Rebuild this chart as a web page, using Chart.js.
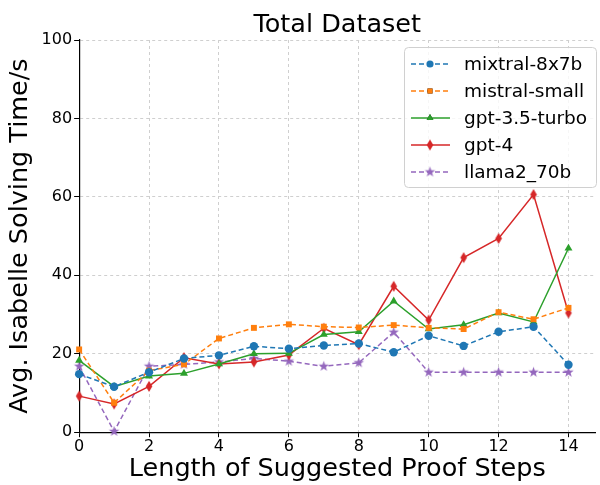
<!DOCTYPE html>
<html>
<head>
<meta charset="utf-8">
<script src="https://cdn.jsdelivr.net/npm/chart.js@4.4.1/dist/chart.umd.min.js"></script>
<style>
  html, body { margin: 0; padding: 0; background: #fff; }
  #wrap { width: 600px; height: 485px; }
</style>
</head>
<body>
<div id="wrap"><canvas id="chart" width="600" height="485"></canvas></div>
<script>
// data
const steps = [0, 1, 2, 3, 4, 5, 6, 7, 8, 9, 10, 11, 12, 13, 14];
const mixtral = [14.8, 11.6, 15.3, 18.8, 19.6, 21.9, 21.3, 22.1, 22.6, 20.4, 24.6, 22.0, 25.6, 26.9, 17.2];
const mistralSmall = [21.1, 7.5, 15.7, 17.3, 23.9, 26.6, 27.5, 26.9, 26.7, 27.3, 26.6, 26.3, 30.6, 28.8, 31.7];
const gpt35 = [18.3, 11.6, 14.3, 15.0, 17.4, 20.0, 20.1, 24.9, 25.6, 33.4, 26.3, 27.4, 30.4, 28.1, 46.9];
const gpt4 = [9.2, 7.2, 11.7, 19.0, 17.4, 17.9, 19.7, 26.5, 22.3, 37.2, 28.6, 44.5, 49.4, 60.6, 30.4];
const llama = [16.8, 0.2, 16.8, 17.3, 17.9, 18.8, 18.1, 16.8, 17.7, 25.5, 15.3, 15.3, 15.3, 15.3, 15.3];
const yTicks = [0, 20, 40, 60, 80, 100];

const FONT = "'DejaVu Sans', sans-serif";

function starImg(color, r) {
  const c = document.createElement('canvas');
  c.width = c.height = Math.ceil(r * 2 + 2);
  const g = c.getContext('2d');
  const cx = c.width / 2, cy = c.height / 2;
  g.beginPath();
  for (let i = 0; i < 10; i++) {
    const rad = i % 2 === 0 ? r : r * 0.4;
    const a = -Math.PI / 2 + i * Math.PI / 5;
    g.lineTo(cx + rad * Math.cos(a), cy + rad * Math.sin(a));
  }
  g.closePath();
  g.fillStyle = color;
  g.fill();
  return c;
}

function thinDiamond(color, r) {
  const c = document.createElement('canvas');
  c.width = Math.ceil(r * 1.4 + 2);
  c.height = Math.ceil(r * 2 + 2);
  const g = c.getContext('2d');
  const cx = c.width / 2, cy = c.height / 2;
  g.beginPath();
  g.moveTo(cx, cy - r);
  g.lineTo(cx + r * 0.6, cy);
  g.lineTo(cx, cy + r);
  g.lineTo(cx - r * 0.6, cy);
  g.closePath();
  g.fillStyle = color;
  g.fill();
  return c;
}

function pts(vals) {
  return steps.map((s, i) => ({ x: s, y: vals[i] }));
}

function series(label, vals, color, style, dashed, radius) {
  return {
    label: label,
    data: pts(vals),
    borderColor: color,
    backgroundColor: color,
    pointBackgroundColor: color,
    pointBorderColor: color,
    pointStyle: style,
    pointRadius: radius,
    pointBorderWidth: 0,
    borderWidth: 1.5,
    borderDash: dashed ? [5, 3] : [],
    tension: 0,
    clip: false
  };
}

const datasets = [
  series('mixtral-8x7b', mixtral, '#1f77b4', 'circle', true, 4.2),
  series('mistral-small', mistralSmall, '#ff7f0e', 'rect', true, 4.2),
  series('gpt-3.5-turbo', gpt35, '#2ca02c', 'triangle', false, 4.6),
  series('gpt-4', gpt4, '#d62728', thinDiamond('#d62728', 5.5), false, 4),
  series('llama2_70b', llama, '#9467bd', starImg('#9467bd', 5.5), true, 4)
];

// title centred over plot area plus legend box inside the plot
const overlay = {
  id: 'overlay',
  afterDraw(chart) {
    const g = chart.ctx;
    const a = chart.chartArea;
    g.save();
    g.fillStyle = '#000';
    g.font = '25.5px ' + FONT;
    g.textAlign = 'center';
    g.textBaseline = 'alphabetic';
    g.fillText('Total Dataset', (a.left + a.right) / 2, 32);

    const bx = 404, by = 47, bw = 192, bh = 140;
    g.fillStyle = 'rgba(255,255,255,0.8)';
    g.strokeStyle = '#d0d0d0';
    g.lineWidth = 1;
    g.beginPath();
    g.roundRect(bx + 0.5, by + 0.5, bw, bh, 4);
    g.fill();
    g.stroke();

    g.font = '18.5px ' + FONT;
    g.textAlign = 'left';
    g.textBaseline = 'middle';
    chart.data.datasets.forEach((ds, i) => {
      const y = by + 17 + i * 27;
      g.strokeStyle = ds.borderColor;
      g.lineWidth = 1.5;
      g.setLineDash(ds.borderDash);
      g.beginPath();
      g.moveTo(411, y);
      g.lineTo(450, y);
      g.stroke();
      g.setLineDash([]);
      Chart.helpers.drawPoint(g, {
        pointStyle: ds.pointStyle, radius: ds.pointRadius * 0.85, rotation: 0, borderWidth: 0
      }, 430, y);
      g.fillStyle = ds.borderColor;
      g.fill();
      g.fillStyle = '#000';
      g.fillText(ds.label, 464, y + 1);
    });
    g.restore();
  }
};

new Chart(document.getElementById('chart'), {
  type: 'line',
  data: { datasets: datasets },
  plugins: [overlay],
  options: {
    responsive: false,
    animation: false,
    layout: { padding: { top: 40, right: 2, left: 5, bottom: 0 } },
    scales: {
      x: {
        type: 'linear',
        min: 0,
        max: 14.77,
        afterBuildTicks(axis) {
          axis.ticks = [0, 2, 4, 6, 8, 10, 12, 14].map(v => ({ value: v }));
        },
        border: { color: '#000', width: 1.2, dash: [3, 3] },
        grid: { color: '#cfcfcf', tickColor: '#000', tickLength: 5 },
        ticks: { color: '#000', font: { family: FONT, size: 16 }, padding: 0, maxRotation: 0 },
        title: { display: true, text: 'Length of Suggested Proof Steps', color: '#000', font: { family: FONT, size: 25.5 }, padding: { top: -2, bottom: 0 } }
      },
      y: {
        min: 0,
        max: 100,
        afterBuildTicks(axis) {
          axis.ticks = yTicks.map(v => ({ value: v }));
        },
        border: { color: '#000', width: 1.2, dash: [3, 3] },
        grid: { color: '#cfcfcf', tickColor: '#000', tickLength: 5 },
        ticks: { color: '#000', font: { family: FONT, size: 16 }, padding: 2 },
        title: { display: true, text: 'Avg. Isabelle Solving Time/s', color: '#000', font: { family: FONT, size: 25.5 }, padding: { top: 0, bottom: 4 } }
      }
    },
    plugins: {
      legend: { display: false },
      tooltip: { enabled: false }
    }
  }
});
</script>
</body>
</html>
